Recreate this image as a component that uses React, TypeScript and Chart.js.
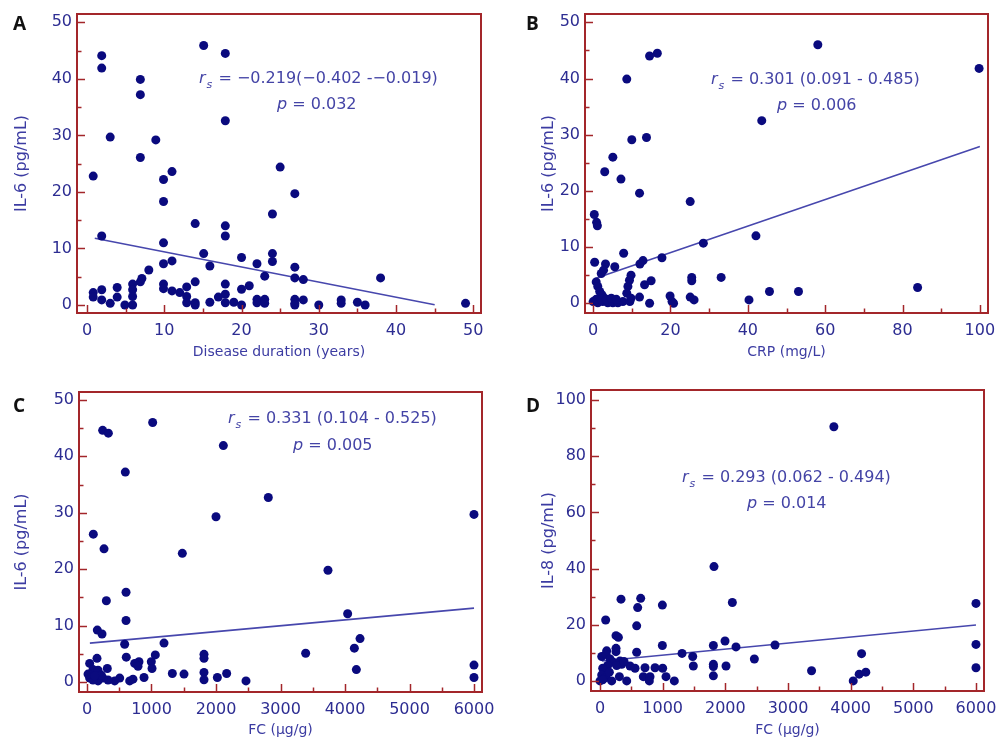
import React, { useEffect, useRef } from 'react';
import { Chart, registerables } from 'chart.js';

Chart.register(...registerables);

// ---------- Panel A: disease duration vs IL-6 ----------
const durationYears = [
  0.8, 1.9, 1.9, 1.9, 3.0, 6.9, 6.9, 6.9, 8.9, 9.9, 11, 9.9, 15.1, 17.9, 17.9, 14, 9.9, 17.9, 17.9, 15.1,
  15.9, 20, 22, 23, 24, 24, 25, 24, 9.9, 11, 8, 6.9, 7.1,
  0.8, 0.8, 1.9, 1.9, 3.0, 3.9, 3.9, 4.9, 5.9, 5.9, 5.9, 5.9, 9.9, 9.9, 11, 12, 12.9, 12.9, 12.9, 14, 14, 14,
  15.9, 17, 17.9, 17.9, 17.9, 19, 20, 20, 21, 22, 22, 23, 23,
  26.9, 26.9, 26.9, 28, 38, 26.9, 26.9, 26.9, 28, 30, 32.9, 32.9, 35, 36, 49,
];
const il6ByDuration = [
  22.8, 44.1, 41.9, 12.2, 29.7, 39.9, 37.2, 26.1, 29.2, 22.2, 23.6, 18.3, 45.9, 44.5, 32.6, 14.4, 11.0, 14.0, 12.2, 9.1,
  6.9, 8.4, 7.3, 5.1, 9.1, 7.7, 24.4, 16.1, 7.3, 7.8, 6.2, 4.1, 4.7,
  2.2, 1.4, 2.7, 0.9, 0.3, 1.4, 3.1, 0, 3.7, 2.7, 1.5, 0, 3.7, 2.9, 2.5, 2.2, 3.2, 1.5, 0.4, 4.1, 0.4, 0,
  0.5, 1.4, 3.7, 1.9, 0.4, 0.5, 0, 2.8, 3.4, 1.0, 0.4, 1.0, 0.3,
  19.7, 6.7, 4.8, 4.5, 4.8, 1.0, 0.3, 0, 0.9, 0, 0.9, 0.3, 0.5, 0, 0.3,
];
const fitDurationX = [1, 45];
const fitDurationY = [11.8, 0.05];
const durationTicks = [0, 10, 20, 30, 40, 50];
const il6TicksA = [0, 10, 20, 30, 40, 50];

// ---------- Panel B: CRP vs IL-6 ----------
const crpValues = [
  14.6, 16.6, 8.7, 10, 13.8, 5.1, 3.0, 7.2, 12, 25.1, 0.3, 0.9, 1.1, 42.1, 28.5, 43.6, 58.1, 99.8, 53.1, 83.9,
  45.6, 40.3, 33.1,
  0.4, 3.2, 5.6, 7.9, 12.9, 12.1, 17.8, 2.7, 2.1, 0.8, 1.2, 1.7, 2.3, 2.9, 0, 1.2, 2.5, 3.8, 5.1, 6.4, 7.7, 9.5,
  0.8, 2.1, 3.4, 4.7, 6.0, 9.8, 9.4, 9.0, 8.7, 9.8, 13.3, 15.0, 12.0, 14.6, 19.9, 20.4, 20.8,
  25.5, 25.5, 25.1, 26.1,
];
const il6ByCrp = [
  44.0, 44.5, 39.9, 29.1, 29.5, 26.0, 23.4, 22.1, 19.6, 18.1, 15.8, 14.4, 13.8, 12.0, 10.7, 32.5, 46.0, 41.8, 2.1, 2.8,
  2.1, 0.6, 4.6,
  7.3, 7.0, 6.5, 8.9, 7.6, 7.0, 8.1, 5.9, 5.3, 3.8, 3.0, 2.1, 1.5, 0.9, 0.3, 0.1, 0.3, 0.1, 0.1, 0.1, 0.3, 0.3,
  0.7, 0.7, 0.7, 0.9, 0.7, 5.0, 4.1, 3.0, 1.8, 0.9, 3.3, 4.0, 1.1, 0, 1.3, 0.3, 0,
  4.6, 4.0, 1.1, 0.6,
];
const fitCrpX = [0.5, 100];
const fitCrpY = [4.4, 27.9];
const crpTicks = [0, 20, 40, 60, 80, 100];
const il6TicksB = [0, 10, 20, 30, 40, 50];

// ---------- Panel C: FC vs IL-6 ----------
const fcValuesIl6 = [
  1018, 243, 331, 2114, 594, 2811, 2000, 98, 264, 1478, 605, 300, 605, 160, 233, 584, 1194, 155, 609, 1059,
  997, 1008, 806, 739, 791, 1323, 1504, 884, 713, 662, 507, 429, 326, 248, 171, 93, 41, 41, 93, 171,
  315, 222, 16, 119, 1814, 1814, 1814, 1814, 2021, 2165, 2465,
  6000, 3736, 4041, 4233, 4145, 4176, 3390, 6000, 6000,
];
const il6ByFc = [
  46.0, 44.6, 44.1, 41.9, 37.2, 32.7, 29.3, 26.2, 23.6, 22.8, 15.9, 14.4, 10.9, 9.2, 8.5, 6.7, 6.9, 4.2, 4.4, 4.8,
  3.6, 2.4, 3.6, 3.3, 2.8, 1.5, 1.4, 0.8, 0.5, 0.2, 0.7, 0.2, 0.35, 0.7, 0.2, 0.35, 0.7, 3.3, 2.2, 2.1,
  2.4, 1.2, 1.4, 1.1, 4.9, 4.2, 1.7, 0.4, 0.8, 1.5, 0.2,
  29.7, 19.8, 12.1, 7.7, 6.0, 2.2, 5.1, 3.0, 0.8,
];
const fitFcIl6X = [45, 6000];
const fitFcIl6Y = [6.9, 13.1];
const fcTicksC = [0, 1000, 2000, 3000, 4000, 5000, 6000];
const il6TicksC = [0, 10, 20, 30, 40, 50];

// ---------- Panel D: FC vs IL-8 ----------
const fcValuesIl8 = [
  1819, 2112, 335, 649, 601, 995, 90, 585, 255, 293, 255, 255, 106, 27, 585, 995, 1809, 1995, 2170, 1309,
  1479, 1489, 1809, 1809, 1809, 2011, 2463, 479, 559, 718, 878, 1000, 691, 798, 787, 1053, 1186, 426, 309, 96,
  160, 213, 319, 346, 122, 43, 27, 96, 149, 186, 0, 43, 266, 383, 2793, 3732, 3376, 4174, 4136, 4242,
  4041, 6000, 6000, 6000,
];
const il8ByFc = [
  40.7, 27.9, 29.1, 29.4, 26.1, 27.0, 21.7, 19.6, 16.1, 15.5, 11.6, 10.4, 10.7, 8.7, 10.2, 12.6, 12.6, 14.2, 12.1, 9.8,
  8.7, 5.3, 5.9, 5.1, 1.8, 5.3, 7.8, 5.3, 4.5, 4.7, 4.7, 4.5, 1.5, 1.5, 0, 1.5, 0, 0, 1.5, 9.5,
  7.8, 6.6, 7.1, 5.9, 5.5, 4.5, 2.1, 1.2, 3.1, 0, 0, 0.4, 5.5, 6.9, 12.8, 90.5, 3.6, 9.7, 2.4, 3.1,
  0, 27.6, 13.0, 4.7,
];
const fitFcIl8X = [30, 6000];
const fitFcIl8Y = [7.1, 19.9];
const fcTicksD = [0, 1000, 2000, 3000, 4000, 5000, 6000];
const il8Ticks = [0, 20, 40, 60, 80, 100];

// ---------- Text ----------
const panelLetters = ['A', 'B', 'C', 'D'];
const xTitles = ['Disease duration (years)', 'CRP (mg/L)', 'FC (\u00b5g/g)', 'FC (\u00b5g/g)'];
const yTitles = ['IL-6 (pg/mL)', 'IL-6 (pg/mL)', 'IL-6 (pg/mL)', 'IL-8 (pg/mL)'];
const rsTexts = [
  ' = \u22120.219(\u22120.402 -\u22120.019)',
  ' = 0.301 (0.091 - 0.485)',
  ' = 0.331 (0.104 - 0.525)',
  ' = 0.293 (0.062 - 0.494)',
];
const pTexts = [' = 0.032', ' = 0.006', ' = 0.005', ' = 0.014'];

// ---------- Styles ----------
const FRAME = '#a3262a';
const POINT = '#0a0a7e';
const LINE = '#4747ad';
const TICK_TEXT = '#2d2d92';
const TITLE_TEXT = '#3c3ca2';
const NOTE_TEXT = '#4444a6';
const FONT = '"DejaVu Sans", sans-serif';

type Spec = {
  left: number; top: number; w: number; h: number;
  area: { l: number; t: number; r: number; b: number };
  xs: number[]; ys: number[]; fx: number[]; fy: number[];
  xTicks: number[]; yTicks: number[];
  xMin: number; xMax: number; yMin: number; yMax: number;
  idx: number;
  yTitlePad: number; xTitlePad: number;
  note: { rx: number; ry: number; px: number; py: number };
  letter: { x: number; y: number };
};

const specs: Spec[] = [
  {
    left: 0, top: 0, w: 498, h: 373, area: { l: 77, t: 14, r: 481, b: 313 },
    xs: durationYears, ys: il6ByDuration, fx: fitDurationX, fy: fitDurationY,
    xTicks: durationTicks, yTicks: il6TicksA,
    xMin: -1.3, xMax: 51.0, yMin: -1.41, yMax: 51.47, idx: 0,
    yTitlePad: 12, xTitlePad: 12,
    note: { rx: 199, ry: 83, px: 277, py: 109 }, letter: { x: 13, y: 30 },
  },
  {
    left: 498, top: 0, w: 499, h: 373, area: { l: 87, t: 14, r: 490, b: 313 },
    xs: crpValues, ys: il6ByCrp, fx: fitCrpX, fy: fitCrpY,
    xTicks: crpTicks, yTicks: il6TicksB,
    xMin: -2.1, xMax: 102.1, yMin: -1.73, yMax: 51.48, idx: 1,
    yTitlePad: 41, xTitlePad: 12,
    note: { rx: 711 - 498, ry: 84, px: 777 - 498, py: 110 }, letter: { x: 526 - 498, y: 30 },
  },
  {
    left: 0, top: 373, w: 498, h: 374, area: { l: 79, t: 19, r: 482, b: 319 },
    xs: fcValuesIl6, ys: il6ByFc, fx: fitFcIl6X, fy: fitFcIl6Y,
    xTicks: fcTicksC, yTicks: il6TicksC,
    xMin: -124, xMax: 6124, yMin: -1.77, yMax: 51.4, idx: 2,
    yTitlePad: 12, xTitlePad: 8,
    note: { rx: 228, ry: 423 - 373, px: 293, py: 450 - 373 }, letter: { x: 13, y: 412 - 373 },
  },
  {
    left: 498, top: 373, w: 499, h: 374, area: { l: 93, t: 17, r: 486, b: 318 },
    xs: fcValuesIl8, ys: il8ByFc, fx: fitFcIl8X, fy: fitFcIl8Y,
    xTicks: fcTicksD, yTicks: il8Ticks,
    xMin: -144, xMax: 6128, yMin: -3.6, yMax: 103.6, idx: 3,
    yTitlePad: 41, xTitlePad: 8,
    note: { rx: 682 - 498, ry: 482 - 373, px: 747 - 498, py: 508 - 373 }, letter: { x: 526 - 498, y: 412 - 373 },
  },
];

function minorValues(ticks: number[], maxV: number) {
  const step = ticks[1] - ticks[0];
  const out: number[] = [];
  for (let i = 0; i < ticks.length; i++) {
    const v = ticks[i] + step / 2;
    if (v <= maxV) out.push(v);
  }
  return out;
}

function makeFramePlugin(spec: Spec) {
  return {
    id: 'frameAndNotes',
    afterDatasetsDraw(chart: any) {
      const { ctx, chartArea } = chart;
      const xs = chart.scales.x;
      const ys = chart.scales.y;
      ctx.save();
      ctx.strokeStyle = FRAME;
      ctx.lineWidth = 1.5;
      const majorLen = 8;
      const minorLen = 4.5;
      const drawY = (v: number, len: number) => {
        const py = Math.round(ys.getPixelForValue(v)) + 0.5;
        ctx.beginPath();
        ctx.moveTo(chartArea.left, py);
        ctx.lineTo(chartArea.left + len, py);
        ctx.stroke();
      };
      const drawX = (v: number, len: number) => {
        const px = Math.round(xs.getPixelForValue(v)) + 0.5;
        ctx.beginPath();
        ctx.moveTo(px, chartArea.bottom);
        ctx.lineTo(px, chartArea.bottom - len);
        ctx.stroke();
      };
      spec.yTicks.forEach((v) => drawY(v, majorLen));
      minorValues(spec.yTicks, spec.yMax).forEach((v) => drawY(v, minorLen));
      spec.xTicks.forEach((v) => drawX(v, majorLen));
      minorValues(spec.xTicks, spec.xMax).forEach((v) => drawX(v, minorLen));
      ctx.lineWidth = 2;
      ctx.strokeRect(chartArea.left, chartArea.top, chartArea.right - chartArea.left, chartArea.bottom - chartArea.top);

      ctx.fillStyle = NOTE_TEXT;
      ctx.textBaseline = 'alphabetic';
      ctx.textAlign = 'left';
      const n = spec.note;
      ctx.font = `italic 16px ${FONT}`;
      ctx.fillText('r', n.rx, n.ry);
      let x = n.rx + ctx.measureText('r').width + 1;
      ctx.font = `italic 11px ${FONT}`;
      ctx.fillText('s', x, n.ry + 5);
      x += ctx.measureText('s').width + 1;
      ctx.font = `16px ${FONT}`;
      ctx.fillText(rsTexts[spec.idx], x, n.ry);
      ctx.font = `italic 16px ${FONT}`;
      ctx.fillText('p', n.px, n.py);
      const px2 = n.px + ctx.measureText('p').width;
      ctx.font = `16px ${FONT}`;
      ctx.fillText(pTexts[spec.idx], px2, n.py);

      ctx.fillStyle = '#111111';
      ctx.font = `bold 19px "Open Sans", "Liberation Sans", sans-serif`;
      ctx.fillText(panelLetters[spec.idx], spec.letter.x, spec.letter.y);
      ctx.restore();
    },
  };
}

function Panel({ spec }: { spec: Spec }) {
  const ref = useRef<HTMLCanvasElement>(null);
  useEffect(() => {
    const canvas = ref.current;
    if (!canvas) return;
    const points = spec.xs.map((x, i) => ({ x, y: spec.ys[i] }));
    const fit = spec.fx.map((x, i) => ({ x, y: spec.fy[i] }));
    const a = spec.area;
    const chart = new Chart(canvas, {
      type: 'scatter',
      data: {
        datasets: [
          {
            type: 'line',
            data: fit,
            borderColor: LINE,
            borderWidth: 1.6,
            pointRadius: 0,
            showLine: true,
            fill: false,
            order: 2,
          } as any,
          {
            type: 'scatter',
            data: points,
            backgroundColor: POINT,
            borderColor: POINT,
            borderWidth: 0,
            pointRadius: 4.5,
            order: 1,
          },
        ],
      },
      options: {
        animation: false,
        responsive: false,
        events: [],
        layout: { padding: { left: 0, top: a.t, right: spec.w - a.r, bottom: 0 } },
        plugins: { legend: { display: false }, tooltip: { enabled: false } },
        scales: {
          x: {
            type: 'linear',
            min: spec.xMin,
            max: spec.xMax,
            afterBuildTicks: (s: any) => {
              s.ticks = spec.xTicks.map((v) => ({ value: v }));
            },
            afterFit: (s: any) => {
              s.height = spec.h - a.b;
              s.paddingLeft = 0;
              s.paddingRight = 0;
            },
            grid: { display: false, drawTicks: false },
            border: { display: false },
            ticks: {
              autoSkip: false,
              maxRotation: 0,
              color: TICK_TEXT,
              font: { family: FONT, size: 16 },
              padding: 8,
              callback: (v: any) => String(v),
            },
            title: {
              display: true,
              text: xTitles[spec.idx],
              color: TITLE_TEXT,
              font: { family: FONT, size: 14 },
              padding: { top: 0, bottom: spec.xTitlePad },
            },
          },
          y: {
            type: 'linear',
            min: spec.yMin,
            max: spec.yMax,
            afterBuildTicks: (s: any) => {
              s.ticks = spec.yTicks.map((v) => ({ value: v }));
            },
            afterFit: (s: any) => {
              s.width = a.l;
              s.paddingTop = 0;
              s.paddingBottom = 0;
            },
            grid: { display: false, drawTicks: false },
            border: { display: false },
            ticks: {
              autoSkip: false,
              color: TICK_TEXT,
              font: { family: FONT, size: 16 },
              padding: 5,
              callback: (v: any) => String(v),
            },
            title: {
              display: true,
              text: yTitles[spec.idx],
              color: TITLE_TEXT,
              font: { family: FONT, size: 16 },
              padding: { top: spec.yTitlePad, bottom: 0 },
            },
          },
        },
      },
      plugins: [makeFramePlugin(spec)],
    });
    return () => chart.destroy();
  }, [spec]);
  return (
    <canvas
      ref={ref}
      width={spec.w}
      height={spec.h}
      style={{ position: 'absolute', left: spec.left, top: spec.top, width: spec.w, height: spec.h }}
    />
  );
}

export default function App() {
  return (
    <div style={{ position: 'absolute', left: 0, top: 0, width: 997, height: 747, background: '#ffffff', overflow: 'hidden' }}>
      {specs.map((s) => (
        <Panel key={s.idx} spec={s} />
      ))}
    </div>
  );
}
